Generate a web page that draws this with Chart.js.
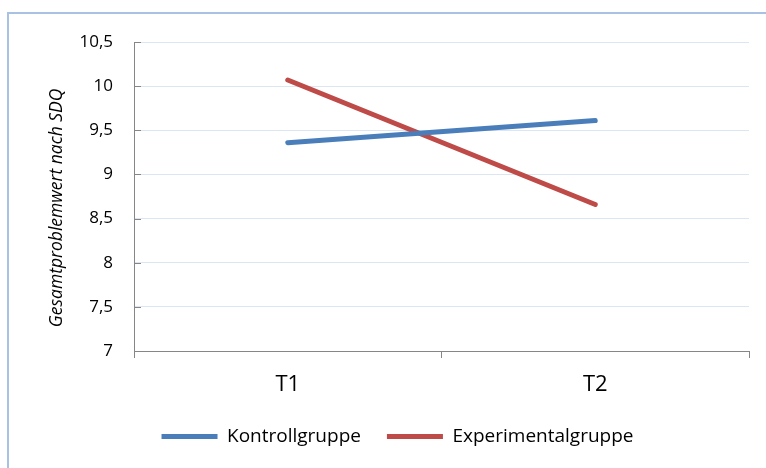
<!DOCTYPE html>
<html lang="de">
<head>
<meta charset="UTF-8">
<title>Gesamtproblemwert nach SDQ</title>
<script src="https://cdn.jsdelivr.net/npm/chart.js"></script>
<style>
  body { margin: 0; background: #fff; overflow: hidden; }
  .frame { position: absolute; left: 7px; top: 12px; width: 800px; height: 500px;
           border-top: 2px solid #a9c2e3; border-left: 2px solid #a9c2e3; }
  #chart { position: absolute; left: 0; top: 0; }
</style>
</head>
<body>
<div class="frame"></div>
<canvas id="chart" width="766" height="468"></canvas>
<script>
// Daten
const zeitpunkte = ['T1', 'T2'];
const kontrollgruppe = [9.36, 9.61];
const experimentalgruppe = [10.07, 8.66];
const yTickWerte = [7, 7.5, 8, 8.5, 9, 9.5, 10, 10.5];

Chart.defaults.font.family = '"Open Sans", Lato, sans-serif';
Chart.defaults.color = '#000';

// kurze Teilstriche innen an der y-Achse (wie in Excel)
const innenTicks = {
    id: 'innenTicks',
    afterDatasetsDraw(chart) {
        const y = chart.scales.y;
        const c = chart.ctx;
        c.save();
        c.strokeStyle = '#868686';
        c.lineWidth = 1;
        y.ticks.forEach(t => {
            const py = Math.round(y.getPixelForValue(t.value)) + 0.5;
            c.beginPath();
            c.moveTo(y.right, py);
            c.lineTo(y.right + 7, py);
            c.stroke();
        });
        c.restore();
    }
};

const ctx = document.getElementById('chart').getContext('2d');
new Chart(ctx, {
    type: 'line',
    data: {
        labels: zeitpunkte,
        datasets: [{
            label: 'Kontrollgruppe',
            data: kontrollgruppe,
            borderColor: '#4a7ebb',
            backgroundColor: '#4a7ebb',
            borderWidth: 5,
            borderCapStyle: 'round',
            pointRadius: 0
        }, {
            label: 'Experimentalgruppe',
            data: experimentalgruppe,
            borderColor: '#be4b48',
            backgroundColor: '#be4b48',
            borderWidth: 5,
            borderCapStyle: 'round',
            pointRadius: 0
        }]
    },
    plugins: [innenTicks],
    options: {
        responsive: false,
        animation: false,
        layout: { padding: { top: 42, left: 46, right: 17, bottom: 12 } },
        plugins: {
            tooltip: { enabled: false },
            legend: {
                position: 'bottom',
                labels: {
                    usePointStyle: true,
                    pointStyle: 'line',
                    pointStyleWidth: 56,
                    padding: 26,
                    font: { size: 19 }
                }
            }
        },
        scales: {
            x: {
                offset: true,
                grid: { offset: true, drawOnChartArea: false, tickLength: 7, tickColor: '#868686' },
                border: { color: '#868686' },
                ticks: { padding: 14, font: { size: 22 } },
                afterFit: s => { s.height = 50; }
            },
            y: {
                min: 7,
                max: 10.5,
                afterBuildTicks: s => { s.ticks = yTickWerte.map(v => ({ value: v })); },
                grid: { color: '#dce6f2', drawTicks: false },
                border: { color: '#868686' },
                ticks: {
                    padding: 21,
                    font: { size: 17 },
                    callback: v => String(v).replace('.', ',')
                },
                title: {
                    display: true,
                    text: 'Gesamtproblemwert nach SDQ     ',
                    font: { size: 17.5, style: 'italic' },
                    padding: { top: 1, bottom: 0 }
                },
                afterFit: s => { s.width = 88; }
            }
        }
    }
});
</script>
</body>
</html>
